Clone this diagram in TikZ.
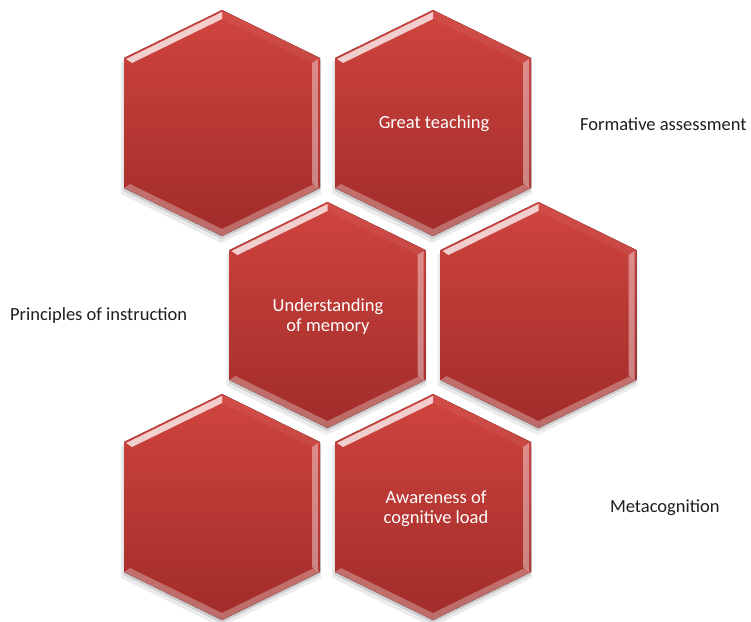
\documentclass[tikz,border=0pt]{standalone}
\usepackage{fontspec}
\setmainfont{Carlito}
\definecolor{hextop}{RGB}{208,68,63}
\definecolor{hexbot}{RGB}{160,44,41}
\definecolor{labelgray}{RGB}{30,30,30}

\begin{document}
\begin{tikzpicture}[
      x=1pt, y=1pt,
      hextext/.style={text=white, align=center, font=\fontsize{18.5}{20}\selectfont},
      sidetext/.style={anchor=west, text=labelgray, font=\fontsize{18.5}{20}\selectfont},
      hexcell/.pic={
        % soft shadow
        \fill[black, opacity=0.08, shift={(-1,-5)}]
          (0,115) -- (100,66) -- (100,-66) -- (0,-115) -- (-100,-66) -- (-100,66) -- cycle;
        \fill[black, opacity=0.12, shift={(-0.5,-3)}]
          (0,113) -- (98,65) -- (98,-65) -- (0,-113) -- (-98,-65) -- (-98,65) -- cycle;
        % face
        \fill[top color=hextop, bottom color=hexbot]
          (0,113) -- (98,65) -- (98,-65) -- (0,-113) -- (-98,-65) -- (-98,65) -- cycle;
        % bevel
        \fill[white, opacity=0.75] (0,111) -- (-96,64) -- (-90,60) -- (0,104) -- cycle;
        \fill[white, opacity=0.05] (0,113) -- (98,65) -- (90,60) -- (0,104) -- cycle;
        \fill[white, opacity=0.4] (96,64) -- (96,-64) -- (90,-60) -- (90,60) -- cycle;
        \fill[white, opacity=0.3] (98,-65) -- (0,-113) -- (0,-106) -- (92,-61) -- cycle;
        \fill[white, opacity=0.3] (0,-113) -- (-98,-65) -- (-92,-61) -- (0,-106) -- cycle;
      }
    ]

    \useasboundingbox[fill=white] (0,0) rectangle (751,-621);

    \pic (hexA) at (222,-123) {hexcell};
    \pic (hexB) at (433,-123) {hexcell};
    \pic (hexC) at (327.5,-315) {hexcell};
    \pic (hexD) at (538.5,-315) {hexcell};
    \pic (hexE) at (222,-507) {hexcell};
    \pic (hexF) at (433,-507) {hexcell};

    \node[hextext] (teaching) at (434,-124) {Great teaching};
    \node[hextext] (memory) at (328,-317) {Understanding\\of memory};
    \node[hextext] (load) at (436,-509) {Awareness of\\cognitive load};

    \node[sidetext] (formative) at (576.5,-124) {Formative assessment};
    \node[sidetext] (principles) at (6.5,-316) {Principles of instruction};
    \node[sidetext] (metacog) at (606.5,-508) {Metacognition};

    \end{tikzpicture}
\end{document}
